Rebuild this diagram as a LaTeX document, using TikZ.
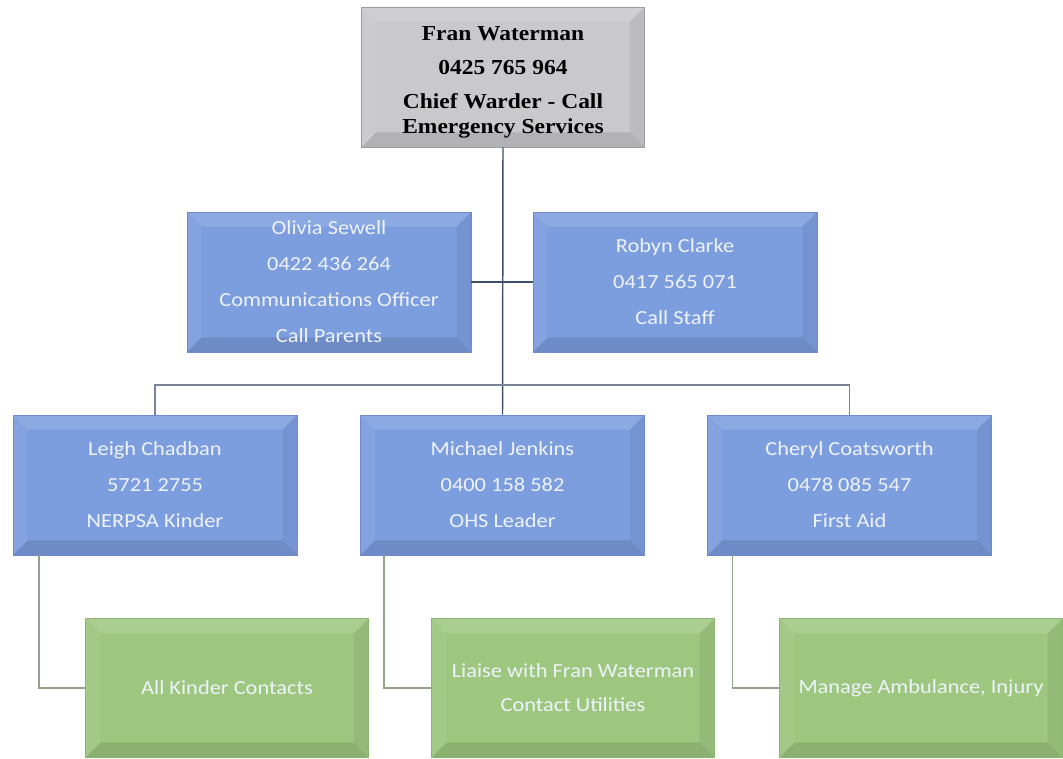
\documentclass[tikz,border=0pt]{standalone}
\usepackage{fontspec}
\setmainfont{Carlito}[FakeStretch=1.12]
\newfontfamily\serifb{Liberation Serif}[FakeStretch=1.1]
\definecolor{bluefill}{RGB}{124,157,222}
\definecolor{blueedge}{RGB}{108,140,206}
\definecolor{greenfill}{RGB}{157,199,127}
\definecolor{greenedge}{RGB}{140,182,112}
\definecolor{grayfill}{RGB}{200,200,205}
\definecolor{grayedge}{RGB}{155,155,162}
\definecolor{navyline}{RGB}{62,78,110}
\definecolor{busline}{RGB}{120,132,150}
\definecolor{oliveline}{RGB}{150,162,135}
\definecolor{lighttext}{RGB}{238,243,251}
\tikzset{
  bevel/.style={path picture={
    \fill[white,opacity=.13] (path picture bounding box.north west) -- (path picture bounding box.north east)
      -- ([xshift=-11pt,yshift=-11pt]path picture bounding box.north east)
      -- ([xshift=11pt,yshift=-11pt]path picture bounding box.north west) -- cycle;
    \fill[white,opacity=.06] (path picture bounding box.north west) -- (path picture bounding box.south west)
      -- ([xshift=11pt,yshift=11pt]path picture bounding box.south west)
      -- ([xshift=11pt,yshift=-11pt]path picture bounding box.north west) -- cycle;
    \fill[black,opacity=.11] (path picture bounding box.south west) -- (path picture bounding box.south east)
      -- ([xshift=-11pt,yshift=11pt]path picture bounding box.south east)
      -- ([xshift=11pt,yshift=11pt]path picture bounding box.south west) -- cycle;
    \fill[black,opacity=.06] (path picture bounding box.north east) -- (path picture bounding box.south east)
      -- ([xshift=-11pt,yshift=11pt]path picture bounding box.south east)
      -- ([xshift=-11pt,yshift=-11pt]path picture bounding box.north east) -- cycle;
  }},
  bluebox/.style={bevel, fill=bluefill, draw=blueedge, line width=0.6pt, inner sep=0pt,
    minimum width=213pt, minimum height=105pt, align=center, text=lighttext,
    font=\fontsize{15}{27}\selectfont},
  greenbox/.style={bevel, fill=greenfill, draw=greenedge, line width=0.6pt, inner sep=0pt,
    minimum width=212pt, minimum height=104pt, align=center, text=lighttext,
    font=\fontsize{15}{25.5}\selectfont},
  graybox/.style={bevel, fill=grayfill, draw=grayedge, line width=0.6pt, inner sep=0pt,
    minimum width=212pt, minimum height=105pt, align=center, text=black,
    font=\serifb\bfseries\fontsize{16}{19}\selectfont},
  navy/.style={draw=navyline, line width=1.1pt},
  bus/.style={draw=busline, line width=1.1pt},
  olive/.style={draw=oliveline, line width=1.4pt}
}
\begin{document}
\begin{tikzpicture}[x=0.75pt,y=-0.75pt]
\useasboundingbox (0,0) rectangle (1063,758);
\fill[white] (0,0) rectangle (1063,758);

\coordinate (bus) at (502.5,385);

\node[graybox] (fran) at (503,77) {\rule{0pt}{19pt}Fran Waterman\\[6.5pt]0425 765 964\\[6.5pt]Chief Warder - Call\\Emergency Services};
\node[bluebox] (olivia) at (329,282) {Olivia Sewell\\0422 436 264\\Communications Officer\\Call Parents};
\node[bluebox] (robyn) at (675,282) {Robyn Clarke\\0417 565 071\\Call Staff};
\node[bluebox] (leigh) at (155,485) {Leigh Chadban\\5721 2755\\NERPSA Kinder};
\node[bluebox] (michael) at (502.5,485) {Michael Jenkins\\0400 158 582\\OHS Leader};
\node[bluebox] (cheryl) at (849.5,485) {Cheryl Coatsworth\\0478 085 547\\First Aid};
\node[greenbox] (g1) at (227,688) {All Kinder Contacts};
\node[greenbox] (g2) at (573,688) {Liaise with Fran Waterman\\Contact Utilities};
\node[greenbox] (g3) at (921,688) {Manage Ambulance, Injury};

\draw[navy] (fran.south) -- (michael.north);
\draw[navy] (olivia.east) -- (robyn.west);
\draw[bus] (leigh.north) |- (bus) -| (cheryl.north);
\draw[olive] ([xshift=20pt]leigh.south west) |- (g1.west);
\draw[olive] ([xshift=18pt]michael.south west) |- (g2.west);
\draw[olive] ([xshift=19pt]cheryl.south west) |- (g3.west);
\end{tikzpicture}
\end{document}
